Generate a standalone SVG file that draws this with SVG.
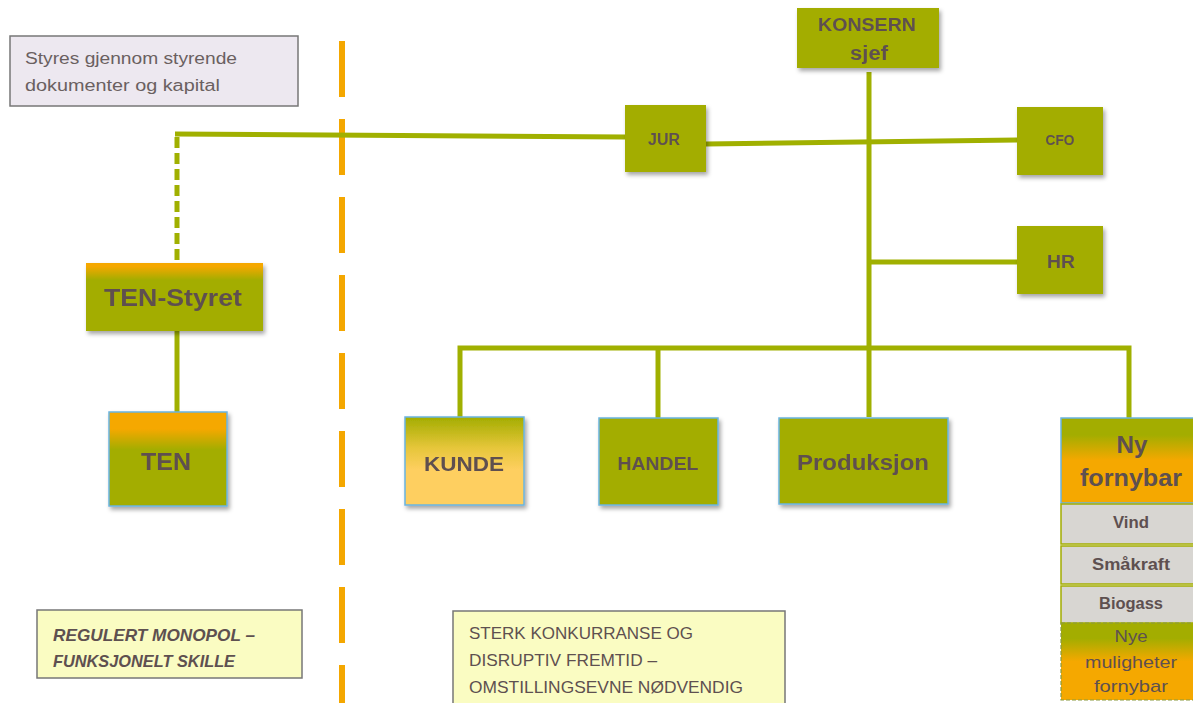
<svg xmlns="http://www.w3.org/2000/svg" width="1193" height="703" viewBox="0 0 1193 703">
<defs>
  <filter id="sh" x="-10%" y="-10%" width="130%" height="130%">
    <feDropShadow dx="2" dy="3" stdDeviation="2" flood-color="#000" flood-opacity="0.35"/>
  </filter>
  <linearGradient id="gTen" x1="0" y1="0" x2="0" y2="1">
    <stop offset="0" stop-color="#f5a800"/>
    <stop offset="0.18" stop-color="#f5a800"/>
    <stop offset="0.4" stop-color="#a3ad00"/>
    <stop offset="1" stop-color="#a3ad00"/>
  </linearGradient>
  <linearGradient id="gStyret" x1="0" y1="0" x2="0" y2="1">
    <stop offset="0" stop-color="#f5a800"/>
    <stop offset="0.05" stop-color="#f5a800"/>
    <stop offset="0.25" stop-color="#a3ad00"/>
    <stop offset="1" stop-color="#a3ad00"/>
  </linearGradient>
  <linearGradient id="gKunde" x1="0" y1="0" x2="0" y2="1">
    <stop offset="0" stop-color="#a3ad00"/>
    <stop offset="0.35" stop-color="#e6c63a"/>
    <stop offset="0.6" stop-color="#fecf60"/>
    <stop offset="1" stop-color="#fecf60"/>
  </linearGradient>
  <linearGradient id="gNy" x1="0" y1="0" x2="0" y2="1">
    <stop offset="0" stop-color="#a3ad00"/>
    <stop offset="0.2" stop-color="#a3ad00"/>
    <stop offset="0.5" stop-color="#f5a800"/>
    <stop offset="1" stop-color="#f5a800"/>
  </linearGradient>
  <style>
    .t{font-family:"Liberation Sans",Arial,sans-serif;fill:#5e5050;text-anchor:middle}
    .b{font-weight:bold}
    .g{fill:#a3ad00}
    .ln{stroke:#a0b000;stroke-width:5;fill:none}
    .note{font-family:"Liberation Sans",Arial,sans-serif;fill:#5e5050;font-size:17px;font-style:italic;font-weight:bold}
    .note2{font-family:"Liberation Sans",Arial,sans-serif;fill:#5e5050;font-size:17px}
    .note3{font-family:"Liberation Sans",Arial,sans-serif;fill:#6a6060;font-size:16px}
    .sub{fill:#d8d6d2;stroke:#a3ad00;stroke-width:1.5}
  </style>
</defs>
<rect width="1193" height="703" fill="#ffffff"/>

<!-- separator -->
<line x1="342" y1="41" x2="342" y2="703" stroke="#f4a700" stroke-width="6" stroke-dasharray="56 22"/>

<g id="connectors">
  <path class="ln" d="M175 134 L625 137"/>
  <path d="M177 137 V262" stroke="#a0b000" stroke-width="5" stroke-dasharray="11 5" fill="none"/>
  <path class="ln" d="M177 330 V412"/>
  <path class="ln" d="M706 144 L1017 140"/>
  <path class="ln" d="M869 72 V417"/>
  <path class="ln" d="M869 262 H1017"/>
  <path class="ln" d="M460 417 V348 H1129 V420"/>
  <path class="ln" d="M658 348 V419"/>
</g>

<g id="note-styres">
  <rect x="10" y="36" width="288" height="70" fill="#ede8f0" stroke="#777" stroke-width="1.5"/>
  <text class="note3" x="25" y="64" textLength="212" lengthAdjust="spacingAndGlyphs">Styres gjennom styrende</text>
  <text class="note3" x="25" y="91" textLength="195" lengthAdjust="spacingAndGlyphs">dokumenter og kapital</text>
</g>

<g id="konsern" filter="url(#sh)">
  <rect class="g" x="797" y="8" width="142" height="60"/>
  <text class="t b" x="867" y="31" font-size="19" textLength="98" lengthAdjust="spacingAndGlyphs">KONSERN</text>
  <text class="t b" x="869" y="60" font-size="20" textLength="38" lengthAdjust="spacingAndGlyphs">sjef</text>
</g>

<g id="jur" filter="url(#sh)">
  <rect class="g" x="625" y="105" width="81" height="67"/>
  <text class="t b" x="664" y="145" font-size="16" textLength="32" lengthAdjust="spacingAndGlyphs">JUR</text>
</g>

<g id="cfo" filter="url(#sh)">
  <rect class="g" x="1017" y="107" width="86" height="68"/>
  <text class="t b" x="1060" y="145" font-size="14" textLength="29" lengthAdjust="spacingAndGlyphs">CFO</text>
</g>

<g id="hr" filter="url(#sh)">
  <rect class="g" x="1017" y="226" width="86" height="68"/>
  <text class="t b" x="1061" y="268" font-size="19" textLength="28" lengthAdjust="spacingAndGlyphs">HR</text>
</g>

<g id="ten-styret" filter="url(#sh)">
  <rect x="86" y="263" width="177" height="68" fill="url(#gStyret)"/>
  <text class="t b" x="173" y="306" font-size="23" textLength="138" lengthAdjust="spacingAndGlyphs">TEN-Styret</text>
</g>

<g id="ten" filter="url(#sh)">
  <rect x="109" y="412" width="118" height="94" fill="url(#gTen)" stroke="#6ab4e0" stroke-width="1.5"/>
  <text class="t b" x="166" y="470" font-size="23" textLength="50" lengthAdjust="spacingAndGlyphs">TEN</text>
</g>

<g id="kunde" filter="url(#sh)">
  <rect x="405" y="417" width="119" height="88" fill="url(#gKunde)" stroke="#6ab4e0" stroke-width="1.5"/>
  <text class="t b" x="464" y="471" font-size="21" textLength="80" lengthAdjust="spacingAndGlyphs">KUNDE</text>
</g>

<g id="handel" filter="url(#sh)">
  <rect class="g" x="599" y="418" width="119" height="87" stroke="#6ab4e0" stroke-width="1.5"/>
  <text class="t b" x="658" y="470" font-size="19" textLength="81" lengthAdjust="spacingAndGlyphs">HANDEL</text>
</g>

<g id="produksjon" filter="url(#sh)">
  <rect class="g" x="779" y="418" width="169" height="86" stroke="#6ab4e0" stroke-width="1.5"/>
  <text class="t b" x="863" y="470" font-size="22" textLength="132" lengthAdjust="spacingAndGlyphs">Produksjon</text>
</g>

<g id="ny-fornybar">
  <rect x="1061" y="418" width="140" height="85" fill="url(#gNy)" stroke="#6ab4e0" stroke-width="1.5"/>
  <text class="t b" x="1132" y="453" font-size="23" textLength="31" lengthAdjust="spacingAndGlyphs">Ny</text>
  <text class="t b" x="1131" y="486" font-size="23" textLength="102" lengthAdjust="spacingAndGlyphs">fornybar</text>
</g>

<g id="vind">
  <rect class="sub" x="1061" y="504" width="140" height="40"/>
  <text class="t b" x="1131" y="528" font-size="17" textLength="36" lengthAdjust="spacingAndGlyphs">Vind</text>
</g>

<g id="smaakraft">
  <rect class="sub" x="1061" y="546" width="140" height="38"/>
  <text class="t b" x="1131" y="570" font-size="17" textLength="78" lengthAdjust="spacingAndGlyphs">Småkraft</text>
</g>

<g id="biogass">
  <rect class="sub" x="1061" y="586" width="140" height="37"/>
  <text class="t b" x="1131" y="609" font-size="17" textLength="64" lengthAdjust="spacingAndGlyphs">Biogass</text>
</g>

<g id="nye-muligheter">
  <rect x="1061" y="623" width="140" height="77" fill="url(#gNy)" stroke="#8a9a40" stroke-width="1.2" stroke-dasharray="4 2"/>
  <text class="t" x="1131" y="642" font-size="17" textLength="33" lengthAdjust="spacingAndGlyphs">Nye</text>
  <text class="t" x="1131" y="668" font-size="17" textLength="92" lengthAdjust="spacingAndGlyphs">muligheter</text>
  <text class="t" x="1131" y="692" font-size="17" textLength="74" lengthAdjust="spacingAndGlyphs">fornybar</text>
</g>

<g id="note-regulert">
  <rect x="37" y="610" width="265" height="68" fill="#fafcc2" stroke="#777" stroke-width="1.5"/>
  <text class="note" x="53" y="641" textLength="202" lengthAdjust="spacingAndGlyphs">REGULERT MONOPOL –</text>
  <text class="note" x="53" y="667" textLength="182" lengthAdjust="spacingAndGlyphs">FUNKSJONELT SKILLE</text>
</g>

<g id="note-sterk">
  <rect x="453" y="611" width="332" height="96" fill="#fafcc2" stroke="#777" stroke-width="1.5"/>
  <text class="note2" x="469" y="639" textLength="224" lengthAdjust="spacingAndGlyphs">STERK KONKURRANSE OG</text>
  <text class="note2" x="469" y="666" textLength="188" lengthAdjust="spacingAndGlyphs">DISRUPTIV FREMTID –</text>
  <text class="note2" x="469" y="693" textLength="274" lengthAdjust="spacingAndGlyphs">OMSTILLINGSEVNE NØDVENDIG</text>
</g>
</svg>
